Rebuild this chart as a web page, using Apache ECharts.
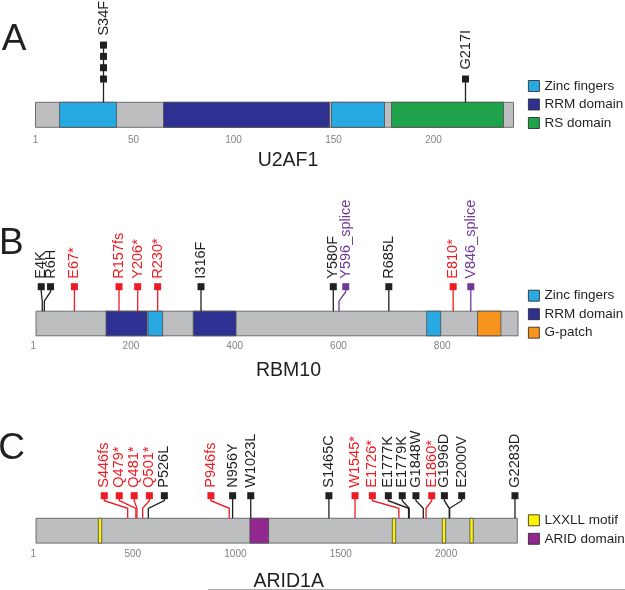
<!DOCTYPE html>
<html><head><meta charset="utf-8">
<script src="https://cdn.jsdelivr.net/npm/echarts@6/dist/echarts.min.js"></script>
<style>html,body{margin:0;padding:0;background:#fff}#chart{width:625px;height:590px}</style>
</head><body><div id="chart"></div>
<script>
// ---------- Panel A: U2AF1 ----------
const aGene = 'U2AF1';
const aLength = 240;
const aTicks = [1, 50, 100, 150, 200];
const aDomainType = ['Zinc fingers', 'RRM domain', 'Zinc fingers', 'RS domain'];
const aDomainStart = [13, 65, 149, 179];
const aDomainEnd = [41.5, 148, 175.5, 235];
const aMutLabel = ['S34F', 'G217I'];
const aMutPos = [35, 216];
const aMutHeadPos = [35, 216];
const aMutCount = [4, 1];
const aMutClass = ['missense', 'missense'];
const aLegend = ['Zinc fingers', 'RRM domain', 'RS domain'];

// ---------- Panel B: RBM10 ----------
const bGene = 'RBM10';
const bLength = 930;
const bTicks = [1, 200, 400, 600, 800];
const bDomainType = ['RRM domain', 'Zinc fingers', 'RRM domain', 'Zinc fingers', 'G-patch'];
const bDomainStart = [136, 217, 304, 754, 852];
const bDomainEnd = [215, 245, 386.5, 781, 897];
const bMutLabel = ['E4K', 'R6H', 'E67*', 'R157fs', 'Y206*', 'R230*', 'I316F', 'Y580F', 'Y596_splice', 'R685L', 'E810*', 'V846_splice'];
const bMutPos = [13, 17, 75, 161, 197, 235.5, 319, 574, 585, 681, 805, 839];
const bMutHeadPos = [11, 29, 75, 161, 197, 235.5, 319, 574, 598, 681, 805, 839];
const bMutClass = ['missense', 'missense', 'truncating', 'truncating', 'truncating', 'truncating', 'missense', 'missense', 'splice', 'missense', 'truncating', 'splice'];
const bLegend = ['Zinc fingers', 'RRM domain', 'G-patch'];

// ---------- Panel C: ARID1A ----------
const cGene = 'ARID1A';
const cLength = 2285;
const cTicks = [1, 500, 1000, 1500, 2000];
const cDomainType = ['LXXLL motif', 'ARID domain', 'LXXLL motif', 'LXXLL motif', 'LXXLL motif'];
const cDomainStart = [297, 1016, 1692, 1929, 2060];
const cDomainEnd = [313, 1105, 1708, 1945, 2076];
const cMutLabel = ['S446fs', 'Q479*', 'Q481*', 'Q501*', 'P526L', 'P946fs', 'N956Y', 'W1023L', 'S1465C', 'W1545*', 'E1726*', 'E1777K', 'E1779K', 'G1848W', 'E1860*', 'G1996D', 'E2000V', 'G2283D'];
const cMutPos = [436, 475, 480, 507, 534, 918, 934, 1020, 1391, 1515, 1723, 1769, 1772, 1839, 1852, 1962, 1964, 2274];
const cMutHeadPos = [325, 396, 467, 539, 610, 831, 934, 1020, 1391, 1515, 1597, 1673, 1739, 1804, 1879, 1939, 2021, 2274];
const cMutClass = ['truncating', 'truncating', 'truncating', 'truncating', 'missense', 'truncating', 'missense', 'missense', 'missense', 'truncating', 'truncating', 'missense', 'missense', 'missense', 'truncating', 'missense', 'missense', 'missense'];
const cLegend = ['LXXLL motif', 'ARID domain'];

// ---------- styles ----------
const FONT = '"Liberation Sans", Arial, Helvetica, sans-serif';
const INK = '#231F20';
const domainColor = {
  'Zinc fingers': '#27AAE1',
  'RRM domain': '#2E3192',
  'RS domain': '#1EA34A',
  'G-patch': '#F7941D',
  'LXXLL motif': '#FFF200',
  'ARID domain': '#92278F'
};
const classColor = { missense: INK, truncating: '#ED1C24', splice: '#6F3996' };

function proteinSeries(g, len) {
  return {
    type: 'custom', name: 'protein', xAxisIndex: g, yAxisIndex: g, silent: true, z: 1,
    data: [[1, len]],
    renderItem(p, api) {
      const a = api.coord([api.value(0), 1]);
      const b = api.coord([api.value(1), 0]);
      return { type: 'rect', shape: { x: a[0], y: a[1], width: b[0] - a[0], height: b[1] - a[1] },
        style: { fill: '#BCBEC0', stroke: '#6D6E71', lineWidth: 1 } };
    }
  };
}
function domainSeries(g, name, types, starts, ends) {
  const data = [];
  types.forEach((t, i) => { if (t === name) data.push([starts[i], ends[i]]); });
  return {
    type: 'custom', name, xAxisIndex: g, yAxisIndex: g, silent: true, z: 2,
    itemStyle: { color: domainColor[name] },
    data,
    renderItem(p, api) {
      const a = api.coord([api.value(0), 1]);
      const b = api.coord([api.value(1), 0]);
      return { type: 'rect', shape: { x: a[0], y: a[1], width: b[0] - a[0], height: b[1] - a[1] },
        style: { fill: domainColor[name], stroke: '#4D4D4F', lineWidth: 0.8 } };
    }
  };
}
function mutationSeries(g, labels, pos, headPos, cls, counts, headGap, labelGap) {
  const data = labels.map((l, i) => [pos[i], headPos[i], counts ? counts[i] : 1]);
  return {
    type: 'custom', name: 'mutations', xAxisIndex: g, yAxisIndex: g, silent: true, z: 5,
    data,
    renderItem(params, api) {
      const i = params.dataIndex;
      const base = api.coord([api.value(0), 1]);
      const bx = base[0], barTop = base[1];
      const hx = api.coord([api.value(1), 1])[0];
      const n = api.value(2);
      const headY = barTop - headGap;
      const step = 11.3, sq = 7;
      const topY = headY - (n - 1) * step;
      const color = classColor[cls[i]];
      const children = [];
      let pts;
      if (Math.abs(hx - bx) < 0.5) pts = [[bx, barTop], [bx, topY]];
      else pts = [[bx, barTop], [bx, barTop - 10], [hx, headY + 5], [hx, topY]];
      children.push({ type: 'polyline', shape: { points: pts }, style: { stroke: color, lineWidth: 1.3, fill: 'none' } });
      for (let k = 0; k < n; k++) {
        children.push({ type: 'rect', shape: { x: hx - sq / 2, y: headY - k * step - sq / 2, width: sq, height: sq }, style: { fill: color } });
      }
      children.push({ type: 'text', x: hx, y: topY - labelGap, rotation: Math.PI / 2,
        style: { text: labels[i], fill: color, fontSize: 14.5, fontFamily: FONT, align: 'left', verticalAlign: 'middle' } });
      return { type: 'group', children };
    }
  };
}
function xAxisFor(g, len, ticks, align, margin) {
  return {
    gridIndex: g, type: 'value', min: 0, max: len,
    axisLine: { show: false }, axisTick: { show: false }, splitLine: { show: false },
    axisLabel: { customValues: ticks, align, margin, fontSize: 10, color: '#808285', fontFamily: FONT,
      formatter: v => String(v) }
  };
}
function yAxisFor(g) {
  return { gridIndex: g, type: 'value', min: 0, max: 1, show: false };
}
function uniq(arr) { return arr.filter((v, i) => arr.indexOf(v) === i); }

const series = [];
series.push(proteinSeries(0, aLength));
uniq(aDomainType).forEach(n => series.push(domainSeries(0, n, aDomainType, aDomainStart, aDomainEnd)));
series.push(mutationSeries(0, aMutLabel, aMutPos, aMutHeadPos, aMutClass, aMutCount, 23.3, 9.5));
series.push(proteinSeries(1, bLength));
uniq(bDomainType).forEach(n => series.push(domainSeries(1, n, bDomainType, bDomainStart, bDomainEnd)));
series.push(mutationSeries(1, bMutLabel, bMutPos, bMutHeadPos, bMutClass, null, 24.5, 8));
series.push(proteinSeries(2, cLength));
uniq(cDomainType).forEach(n => series.push(domainSeries(2, n, cDomainType, cDomainStart, cDomainEnd)));
series.push(mutationSeries(2, cMutLabel, cMutPos, cMutHeadPos, cMutClass, null, 22.6, 8));

const legendCommon = {
  orient: 'vertical', icon: 'rect', itemWidth: 11, itemHeight: 11, itemGap: 2.5, padding: 0,
  selectedMode: false,
  itemStyle: { borderColor: INK, borderWidth: 0.8 },
  textStyle: { fontSize: 13.5, fontFamily: FONT, color: INK, lineHeight: 16 }
};

const chart = echarts.init(document.getElementById('chart'), null, { renderer: 'canvas' });
chart.setOption({
  animation: false,
  backgroundColor: '#fff',
  textStyle: { fontFamily: FONT },
  grid: [
    { left: 33.5, top: 102.3, width: 480, height: 25, outerBoundsMode: 'none' },
    { left: 35.5, top: 311.2, width: 482.5, height: 24.6, outerBoundsMode: 'none' },
    { left: 35.8, top: 518.3, width: 481.5, height: 24.8, outerBoundsMode: 'none' }
  ],
  xAxis: [
    xAxisFor(0, aLength, aTicks, 'center', 8),
    xAxisFor(1, bLength, bTicks, 'right', 5.5),
    xAxisFor(2, cLength, cTicks, 'right', 6)
  ],
  yAxis: [yAxisFor(0), yAxisFor(1), yAxisFor(2)],
  legend: [
    Object.assign({ data: aLegend, left: 528, top: 78 }, legendCommon),
    Object.assign({ data: bLegend, left: 528, top: 287.7 }, legendCommon),
    Object.assign({ data: cLegend, left: 528, top: 512.3 }, legendCommon)
  ],
  graphic: [
    { type: 'text', x: 1.7, y: 40, style: { text: 'A', fontSize: 37, fontFamily: FONT, fill: INK, align: 'left', verticalAlign: 'middle' } },
    { type: 'text', x: -1, y: 243.3, style: { text: 'B', fontSize: 37, fontFamily: FONT, fill: INK, align: 'left', verticalAlign: 'middle' } },
    { type: 'text', x: -1.8, y: 448.3, style: { text: 'C', fontSize: 37, fontFamily: FONT, fill: INK, align: 'left', verticalAlign: 'middle' } },
    { type: 'text', x: 288, y: 160.8, style: { text: aGene, fontSize: 19.5, fontFamily: FONT, fill: INK, align: 'center', verticalAlign: 'middle' } },
    { type: 'text', x: 288.5, y: 371, style: { text: bGene, fontSize: 19.5, fontFamily: FONT, fill: INK, align: 'center', verticalAlign: 'middle' } },
    { type: 'text', x: 288.7, y: 581.3, style: { text: cGene, fontSize: 19.5, fontFamily: FONT, fill: INK, align: 'center', verticalAlign: 'middle' } },
    { type: 'line', shape: { x1: 208, y1: 589.5, x2: 625, y2: 589.5 }, style: { stroke: '#A7A9AC', lineWidth: 1 } }
  ],
  series
});
</script></body></html>
